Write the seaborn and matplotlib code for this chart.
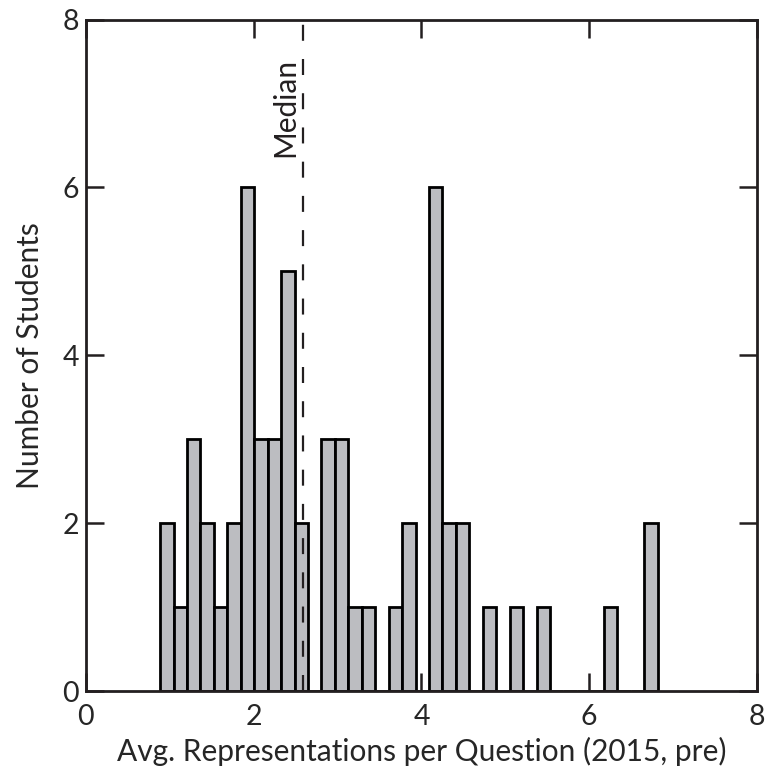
import numpy as np
import pandas as pd
import matplotlib
matplotlib.use('Agg')
import matplotlib.pyplot as plt
import seaborn as sns

# histogram bins
bin_start = 0.884
bin_width = 0.1603
counts = [2, 1, 3, 2, 1, 2, 6, 3, 3, 5, 2, 0, 3, 3, 1, 1, 0, 1, 2, 0,
          6, 2, 2, 0, 1, 0, 1, 0, 1, 0, 0, 0, 0, 1, 0, 0, 2]
median_value = 2.585
ticks = [0, 2, 4, 6, 8]

edges = bin_start + bin_width * np.arange(len(counts) + 1)
centers = (edges[:-1] + edges[1:]) / 2
df = pd.DataFrame({'value': centers, 'n': counts})

sns.set_style('ticks')
plt.rcParams['font.family'] = ['Lato', 'DejaVu Sans']
ink = '#231f20'

fig = plt.figure(figsize=(7.67, 7.8), dpi=100)
ax = fig.add_axes([0.112, 0.114, 0.875, 0.861])

sns.histplot(data=df, x='value', weights='n', bins=edges.tolist(), ax=ax,
             color='#bcbdc1', alpha=1, edgecolor='black', linewidth=2)

ax.axvline(median_value, color=ink, linestyle=(0, (7.2, 8.2)), linewidth=1.6)
ax.text(median_value - 0.045, 7.54, 'Median', rotation=90, ha='right', va='top',
        fontsize=21.5, color=ink)

ax.set_xlim(0, 8)
ax.set_ylim(0, 8)
ax.set_xticks(ticks)
ax.set_yticks(ticks)
ax.tick_params(direction='in', length=13, width=1.8, color=ink, labelsize=20.5,
               top=True, right=True)
ax.tick_params(axis='x', pad=9)
ax.tick_params(axis='y', pad=5)
for sp in ax.spines.values():
    sp.set_linewidth(2)
    sp.set_color(ink)
ax.set_xlabel('Avg. Representations per Question (2015, pre)', fontsize=21.5, labelpad=5)
ax.set_ylabel('Number of Students', fontsize=21.5, labelpad=13)

fig.savefig('out.png', dpi=100)
